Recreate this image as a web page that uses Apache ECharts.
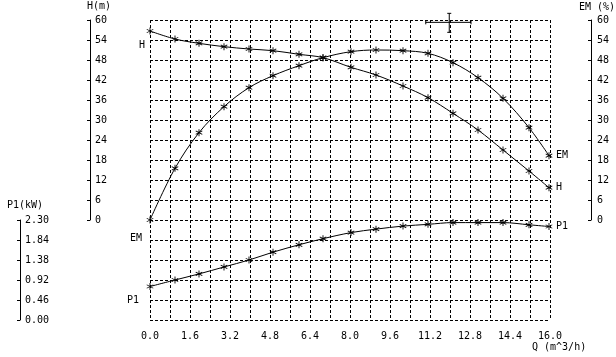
<!DOCTYPE html>
<html>
<head>
<meta charset="utf-8">
<script src="https://cdn.jsdelivr.net/npm/echarts@6/dist/echarts.min.js"></script>
<style>
html,body{margin:0;padding:0;background:#fff;}
#c{width:616px;height:357px;}
</style>
</head>
<body>
<div id="c"></div>
<script>
// Flow rate Q (m^3/h) at each measured point
const Q  = [0, 1.0, 1.96, 2.96, 3.96, 4.92, 5.96, 6.92, 8.04, 9.04, 10.12, 11.12, 12.12, 13.12, 14.12, 15.16, 15.96];
// Head H (m)
const H  = [56.7, 54.3, 53.0, 52.0, 51.3, 50.8, 49.7, 48.7, 45.8, 43.5, 40.2, 36.7, 32.0, 27.0, 21.0, 14.7, 9.7];
// Efficiency EM (%)
const EM = [0, 15.5, 26.2, 34.0, 39.7, 43.3, 46.3, 48.7, 50.5, 51.0, 50.8, 50.0, 47.2, 42.7, 36.5, 27.7, 19.3];
// Input power P1 (kW)
const P1 = [0.77, 0.92, 1.06, 1.22, 1.38, 1.56, 1.73, 1.87, 2.01, 2.09, 2.16, 2.20, 2.24, 2.24, 2.24, 2.19, 2.15];
// Duty point cross: Q left/centre/right, H low/centre/high
const crossQ = [11.03, 11.97, 12.84];
const crossH = [56.3, 59.3, 62.0];

const FONT = 'DejaVu Sans Mono';
const FS = 10;
const txt = {color:'#000', fontFamily:FONT, fontSize:FS};
const dash = {color:'#000', width:1, type:[3,2]};
const STAR = 'path://M4.4,0L5.6,0L5.6,10L4.4,10Z M0.4,3L1,2L9.6,7L9,8Z M9,2L9.6,3L1,8L0.4,7Z';

function build(vals, name, leftDist, leftDy) {
  const last = vals.length - 1;
  return vals.map((v, i) => {
    const item = {value:[Q[i], v]};
    if (i === 0) item.label = {show:true, position:'left', distance:leftDist, offset:[0,leftDy], formatter:name, ...txt};
    if (i === last) item.label = {show:true, position:'right', distance:3.5, formatter:name, ...txt};
    return item;
  });
}

const lineSeries = (name, vals, xi, yi, ld, ldy) => ({
  type:'line', name, xAxisIndex:xi, yAxisIndex:yi,
  data: build(vals, name, ld, ldy),
  smooth:0.35, symbol:STAR, symbolSize:7,
  itemStyle:{color:'#000'}, lineStyle:{color:'#000', width:1},
  emphasis:{disabled:true}, silent:true, animation:false, clip:false
});

const xBase = {
  type:'value', min:0, max:16, interval:0.8,
  axisLine:{show:false}, axisTick:{show:false},
  splitLine:{show:true, lineStyle:dash}
};

const chart = echarts.init(document.getElementById('c'), null, {renderer:'canvas'});
chart.setOption({
  backgroundColor:'#fff',
  animation:false,
  textStyle:txt,
  title:[
    {text:'H(m)', left:87, top:1, padding:0, textStyle:{...txt, fontWeight:'normal'}},
    {text:'EM (%)', left:579, top:2, padding:0, textStyle:{...txt, fontWeight:'normal'}},
    {text:'P1(kW)', left:7, top:200, padding:0, textStyle:{...txt, fontWeight:'normal'}},
    {text:'Q (m^3/h)', left:532, top:342, padding:0, textStyle:{...txt, fontWeight:'normal'}}
  ],
  grid:[
    {left:150, top:20, width:400, height:200},
    {left:150, top:220, width:400, height:100}
  ],
  xAxis:[
    {...xBase, gridIndex:0, axisLabel:{show:false}},
    {...xBase, gridIndex:1, axisLabel:{show:true, margin:11, ...txt,
      formatter:(v)=> (Math.round(v/0.8) % 2 === 0 ? v.toFixed(1) : '')}}
  ],
  yAxis:[
    {gridIndex:0, type:'value', position:'left', offset:60, min:0, max:60, interval:6,
     axisLine:{show:true, onZero:false, lineStyle:{color:'#000', width:1}},
     axisTick:{show:true, inside:false, length:3, lineStyle:{color:'#000'}},
     axisLabel:{inside:true, margin:5, ...txt},
     splitLine:{show:true, lineStyle:dash}},
    {gridIndex:0, type:'value', position:'right', offset:41, min:0, max:60, interval:6,
     axisLine:{show:true, onZero:false, lineStyle:{color:'#000', width:1}},
     axisTick:{show:true, inside:true, length:3, lineStyle:{color:'#000'}},
     axisLabel:{inside:false, margin:6, ...txt},
     splitLine:{show:false}},
    {gridIndex:1, type:'value', position:'left', offset:130, min:0, max:2.3, interval:0.46,
     axisLine:{show:true, onZero:false, lineStyle:{color:'#000', width:1}},
     axisTick:{show:true, inside:false, length:3, lineStyle:{color:'#000'}},
     axisLabel:{inside:true, margin:5, ...txt, formatter:(v)=>v.toFixed(2)},
     splitLine:{show:true, lineStyle:dash}}
  ],
  series:[
    lineSeries('H', H, 0, 0, 1.5, 14),
    lineSeries('EM', EM, 0, 1, 4.5, 18),
    lineSeries('P1', P1, 1, 2, 7.5, 14),
    {
      type:'custom', xAxisIndex:0, yAxisIndex:0, silent:true, animation:false, clip:false,
      data:[[crossQ[0], crossQ[1], crossQ[2], crossH[0], crossH[1], crossH[2]]],
      encode:{x:[0,1,2], y:[3,4,5]},
      renderItem:(params, api) => {
        const L = api.coord([api.value(0), api.value(4)]);
        const R = api.coord([api.value(2), api.value(4)]);
        const B = api.coord([api.value(1), api.value(3)]);
        const T = api.coord([api.value(1), api.value(5)]);
        const st = {stroke:'#000', lineWidth:1};
        const ln = (x1,y1,x2,y2) => ({type:'line', shape:{x1,y1,x2,y2}, style:st});
        return {type:'group', children:[
          ln(L[0], L[1], R[0], R[1]),
          ln(T[0], T[1], B[0], B[1]),
          ln(L[0], L[1]-2, L[0], L[1]+2),
          ln(R[0], R[1]-2, R[0], R[1]+2),
          ln(T[0]-2, T[1], T[0]+2, T[1]),
          ln(B[0]-2, B[1], B[0]+2, B[1])
        ]};
      }
    }
  ]
});
</script>
</body>
</html>
